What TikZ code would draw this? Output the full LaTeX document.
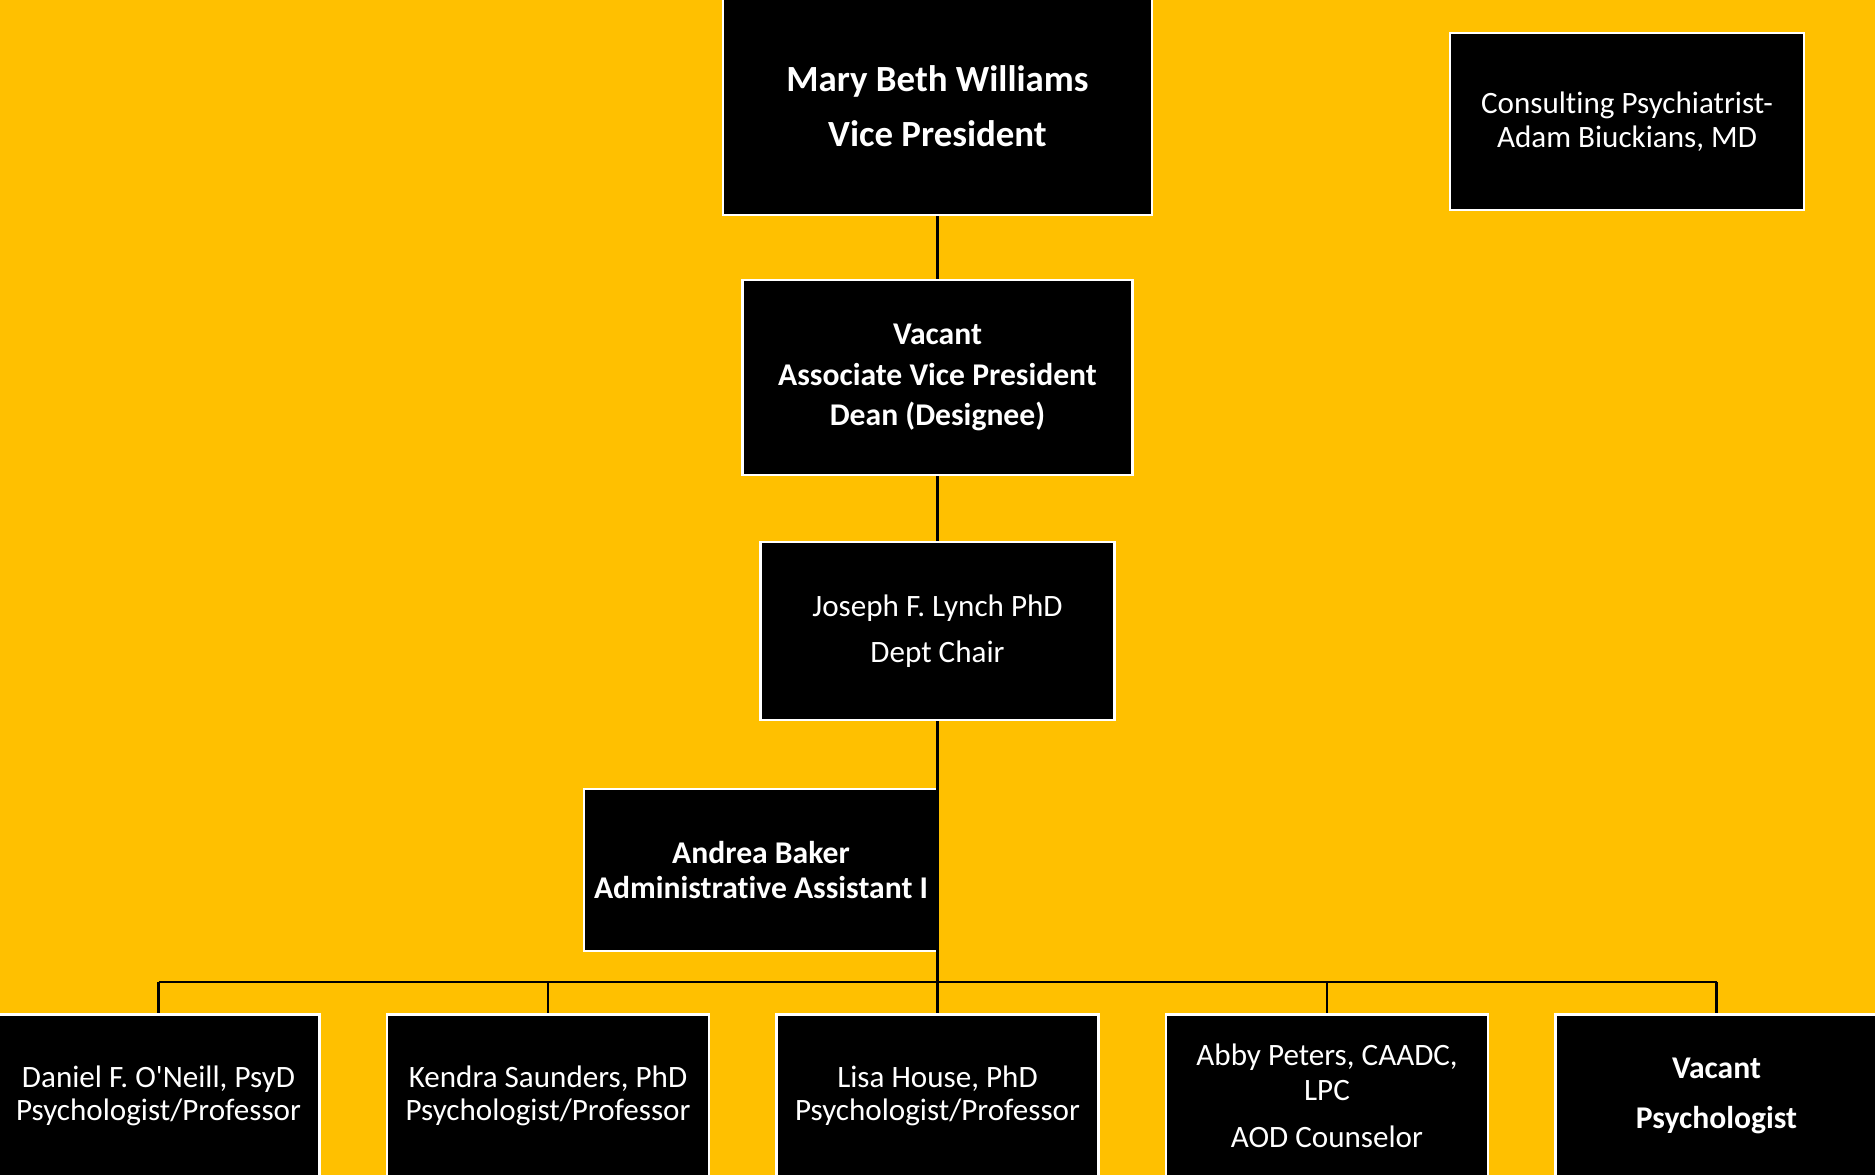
\documentclass[tikz,border=0pt]{standalone}
\usepackage{fontspec}
\setmainfont{Carlito}[Ligatures=NoCommon]
\usepackage{tikz}
\usetikzlibrary{positioning}
\usepackage{xcolor}
\definecolor{bgamber}{RGB}{255,192,0}
\tikzstyle{card} = [draw=white, line width=0.6pt, fill=black, text=white, align=center, inner sep=2pt]
\tikzstyle{staff} = [card, minimum width=3.22cm, minimum height=1.63cm]
\tikzstyle{link} = [line width=0.8pt, color=black]

\begin{document}
\begin{tikzpicture}
\useasboundingbox (0,0) rectangle (18.75,11.75);
\clip (0,0) rectangle (18.75,11.75);
\fill[bgamber] (0,0) rectangle (18.75,11.75);

% Leadership chain
\node[card, minimum width=4.29cm, minimum height=2.18cm, font=\fontsize{10.5}{15.6}\selectfont\bfseries] (vp) at (9.375,10.69) {Mary Beth Williams\\Vice President};
\node[card, minimum width=3.54cm, minimum height=1.77cm, font=\fontsize{8.85}{9.7}\selectfont] (consult) at (16.27,10.535) {Consulting Psychiatrist-\\Adam Biuckians, MD};
\node[card, minimum width=3.90cm, minimum height=1.95cm, font=\fontsize{9}{11.4}\selectfont\bfseries] (avp) at (9.375,7.975) {Vacant\\Associate Vice President\\Dean (Designee)};
\node[card, minimum width=3.54cm, minimum height=1.78cm, font=\fontsize{8.85}{13}\selectfont] (chair) at (9.375,5.44) {Joseph F. Lynch PhD\\Dept Chair};
\node[card, minimum width=3.54cm, minimum height=1.62cm, font=\fontsize{9}{10}\selectfont\bfseries] (admin) at (7.61,3.05) {Andrea Baker\\Administrative Assistant I};

% Staff row
\node[staff, font=\fontsize{8.85}{9.4}\selectfont] (oneill) at (1.585,0.79) {Daniel F. O\textquotesingle Neill, PsyD\\Psychologist/Professor};
\node[staff, font=\fontsize{8.85}{9.4}\selectfont] (saunders) at (5.48,0.79) {Kendra Saunders, PhD\\Psychologist/Professor};
\node[staff, font=\fontsize{8.85}{9.4}\selectfont] (house) at (9.375,0.79) {Lisa House, PhD\\Psychologist/Professor};
\node[staff, font=\fontsize{8.85}{10}\selectfont] (peters) at (13.27,0.79) {Abby Peters, CAADC,\\LPC\\[3.4pt]AOD Counselor};
\node[staff, font=\fontsize{9}{14.2}\selectfont\bfseries] (vacant) at (17.165,0.79) {Vacant\\Psychologist};

% Connectors
\coordinate (bus) at (9.375,1.93);
\draw[link] (vp.south) -- (avp.north);
\draw[link] (avp.south) -- (chair.north);
\draw[link] (chair.south) -- (chair.south |- bus);
\draw[link] (oneill.north |- bus) -- (vacant.north |- bus);
\foreach \n in {oneill,saunders,house,peters,vacant}
  \draw[link] (\n.north |- bus) -- (\n.north);
\end{tikzpicture}
\end{document}
